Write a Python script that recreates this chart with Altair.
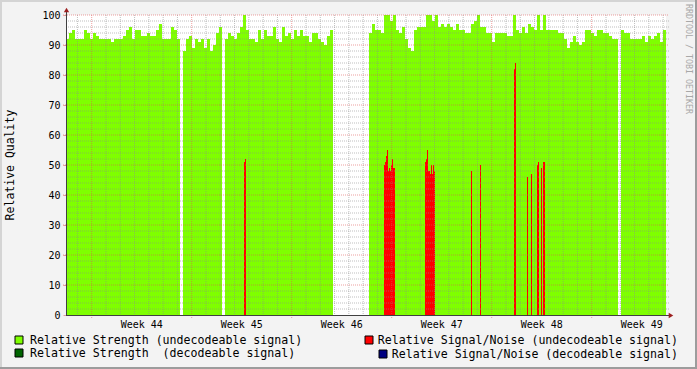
import altair as alt
import pandas as pd

FONT = "DejaVu Sans Mono"
STEP = 0.21      # days per strength sample
SN_W = 0.07      # days per signal/noise sample

# Relative strength (undecodeable), one value per 0.21-day sample; None = no data
strength = [
    92, 94, 95, 92, 92, 92, 95, 94, 92, 94,
    93, 92, 92, 92, 92, 91, 92, 92, 92, 93,
    95, 96, 92, 95, 95, 93, 93, 94, 93, 93,
    95, 97, 92, 92, 92, 96, 95, 92, None, 88,
    92, 93, 89, 92, 91, 92, 89, 92, 88, 90,
    94, 96, None, 92, 94, 93, 92, 94, 96, 100,
    95, 92, 92, 91, 95, 92, 95, 93, 93, 96,
    92, 91, 96, 93, 94, 92, 95, 93, 95, 93,
    93, 91, 94, 94, 92, 91, 90, 93, 95, None,
    None, None, None, None, None, None, None, None, None, None,
    None, 94, 97, 95, 95, 94, 100, 100, 98, 100,
    95, 94, 96, 92, 89, 88, 95, 96, 96, 96,
    100, 100, 98, 100, 96, 97, 96, 97, 96, 95,
    97, 95, 95, 94, 94, 97, 98, 100, 96, 96,
    94, 94, 91, 94, 94, 94, 94, 93, 93, 100,
    95, 94, 96, 94, 97, 96, 95, 100, 95, 100,
    95, 95, 95, 95, 94, 94, 92, 89, 91, 93,
    91, 90, 91, 95, 95, 94, 93, 95, 95, 94,
    94, 93, 92, 92, None, 95, 94, 94, 92, 92,
    92, 92, 93, 91, 93, 92, 93, 94, 91, 95,
]

# Relative signal/noise (undecodeable): start day and value
sn_day = [12.46, 12.53,
          22.26, 22.33, 22.40, 22.47, 22.54, 22.61, 22.68, 22.75, 22.82, 22.89, 22.96,
          25.13, 25.20, 25.27, 25.34, 25.41, 25.48, 25.55, 25.62, 25.69, 25.76,
          28.35, 28.98, 31.36, 31.43, 32.27, 32.55, 32.97, 33.04, 33.25, 33.39, 33.46]
sn_val = [51, 52,
          50, 51, 53, 55, 48, 49, 48, 50, 52, 49, 49,
          51, 52, 55, 48, 48, 47, 50, 47, 50, 48,
          48, 50, 82, 84, 46, 47, 50, 51, 49, 51, 51]

week_start = [1.8, 8.8, 15.8, 22.8, 29.8, 36.8]
week_mid = [5.3, 12.3, 19.3, 26.3, 33.3, 40.3]
week_labels = ["Week 44", "Week 45", "Week 46", "Week 47", "Week 48", "Week 49"]
day_lines = [0.8 + k for k in range(42) if (0.8 + k) not in week_start]
y_major = list(range(10, 101, 10))
y_minor = [v for v in range(2, 101, 2) if v % 10]

legend_labels = ["Relative Strength (undecodeable signal)",
                 "Relative Signal/Noise (undecodeable signal)",
                 "Relative Strength \u00a0(decodeable signal)",
                 "Relative Signal/Noise (decodeable signal)"]
legend_colors = ["#7FFF00", "#FF0000", "#006400", "#000080"]

LIME = "#7FFF00"
RED = "#FF0000"
MINOR = "#8c8c8c"
MAJOR = "#e05050"
ARROW = "#9c1f1f"

xs = alt.Scale(domain=[0, 42], nice=False, zero=False)
ys = alt.Scale(domain=[0, 100], nice=False)
yaxis = alt.Axis(values=list(range(0, 101, 10)), grid=False, domain=False,
                 ticks=True, tickSize=3, tickColor="#e0a0a0", labelFont=FONT,
                 labelFontSize=10, labelColor="black", labelPadding=3, title=None)

green_df = pd.DataFrame({"t0": [i * STEP for i in range(len(strength))],
                         "t1": [(i + 1) * STEP for i in range(len(strength))],
                         "v": strength}).dropna()
sn_df = pd.DataFrame({"t0": sn_day, "t1": [d + SN_W for d in sn_day], "v": sn_val})

green = alt.Chart(green_df).mark_rect(color=LIME).encode(
    x=alt.X("t0:Q", scale=xs, axis=None), x2="t1:Q",
    y=alt.Y("v:Q", scale=ys, axis=yaxis), y2=alt.datum(0))
red = alt.Chart(sn_df).mark_rect(color=RED).encode(
    x=alt.X("t0:Q", scale=xs, axis=None), x2="t1:Q",
    y=alt.Y("v:Q", scale=ys, axis=yaxis), y2=alt.datum(0))

hmin = alt.Chart(pd.DataFrame({"y": y_minor})).mark_rule(
    color=MINOR, opacity=0.55, strokeDash=[1, 1], strokeWidth=1).encode(
    y=alt.Y("y:Q", scale=ys, axis=yaxis), x=alt.value(0), x2=alt.value(603))
hmaj = alt.Chart(pd.DataFrame({"y": y_major})).mark_rule(
    color=MAJOR, opacity=0.55, strokeDash=[1, 1], strokeWidth=1).encode(
    y=alt.Y("y:Q", scale=ys, axis=yaxis), x=alt.value(-3), x2=alt.value(603))
vmin = alt.Chart(pd.DataFrame({"x": day_lines})).mark_rule(
    color=MINOR, opacity=0.55, strokeDash=[1, 1], strokeWidth=1).encode(
    x=alt.X("x:Q", scale=xs, axis=None), y=alt.value(0), y2=alt.value(302))
vmaj = alt.Chart(pd.DataFrame({"x": week_start})).mark_rule(
    color=MAJOR, opacity=0.55, strokeDash=[1, 1], strokeWidth=1).encode(
    x=alt.X("x:Q", scale=xs, axis=None), y=alt.value(0), y2=alt.value(303))

one = pd.DataFrame({"a": [0]})
yline = alt.Chart(one).mark_rule(color="#404040", strokeWidth=1).encode(
    x=alt.value(0.5), y=alt.value(-6), y2=alt.value(300))
xline = alt.Chart(one).mark_rule(color="#404040", strokeWidth=1).encode(
    x=alt.value(0), x2=alt.value(604), y=alt.value(300.5))
yarrow = alt.Chart(one).mark_point(shape="triangle-up", filled=True, size=28,
                                   color=ARROW, opacity=1).encode(
    x=alt.value(0.5), y=alt.value(-5))
xarrow = alt.Chart(one).mark_point(shape="triangle-right", filled=True, size=28,
                                   color=ARROW, opacity=1).encode(
    x=alt.value(605), y=alt.value(300.5))

weeks = alt.Chart(pd.DataFrame({"x": week_mid, "t": week_labels})).mark_text(
    font=FONT, fontSize=10, color="black", baseline="middle").encode(
    x=alt.X("x:Q", scale=xs, axis=None), y=alt.value(309.5), text="t:N")

ytitle = alt.Chart(pd.DataFrame({"t": ["Relative Quality"]})).mark_text(
    font=FONT, fontSize=11.5, color="black", angle=270, baseline="middle").encode(
    x=alt.value(-55), y=alt.value(150), text="t:N")

mark_text = alt.Chart(pd.DataFrame({"t": ["RRDTOOL / TOBI OETIKER"]})).mark_text(
    font=FONT, fontSize=8.3, color="#a8a8a8", angle=90, baseline="middle").encode(
    x=alt.value(622), y=alt.value(44), text="t:N")

# legend
leg_pos = [(-51, 321, -36, "left"), (299, 321, 612, "right"),
           (-51, 334, -36, "left"), (313, 335, 612, "right")]
legend_layers = []
for lab, col, (sx, sy, tx, al) in zip(legend_labels, legend_colors, leg_pos):
    legend_layers.append(alt.Chart(one).mark_rect(color=col, stroke="black", strokeWidth=1).encode(
        x=alt.value(sx), x2=alt.value(sx + 8), y=alt.value(sy), y2=alt.value(sy + 8)))
    legend_layers.append(alt.Chart(pd.DataFrame({"t": [lab]})).mark_text(
        font=FONT, fontSize=11.6, color="black", align=al, baseline="middle").encode(
        x=alt.value(tx), y=alt.value(sy + 5), text="t:N"))

# frame shading
frame = [
    alt.Chart(one).mark_rect(color="#d4d4d4").encode(
        x=alt.value(-66), x2=alt.value(631), y=alt.value(-15), y2=alt.value(-13)),
    alt.Chart(one).mark_rect(color="#d4d4d4").encode(
        x=alt.value(-66), x2=alt.value(-64), y=alt.value(-15), y2=alt.value(354)),
    alt.Chart(one).mark_rect(color="#9c9c9c").encode(
        x=alt.value(-66), x2=alt.value(631), y=alt.value(352), y2=alt.value(354)),
    alt.Chart(one).mark_rect(color="#9c9c9c").encode(
        x=alt.value(629), x2=alt.value(631), y=alt.value(-15), y2=alt.value(354)),
]

chart = alt.layer(green, red, hmin, vmin, hmaj, vmaj, yline, xline, yarrow, xarrow,
                  weeks, ytitle, mark_text, *legend_layers, *frame).properties(
    width=600, height=300,
    autosize=alt.AutoSizeParams(type="none"),
    padding={"left": 66, "top": 15, "right": 31, "bottom": 54},
).configure(background="#f3f3f3").configure_view(fill="white", strokeWidth=0)

chart.save("out.html", embed_options={"renderer": "svg", "actions": False})
